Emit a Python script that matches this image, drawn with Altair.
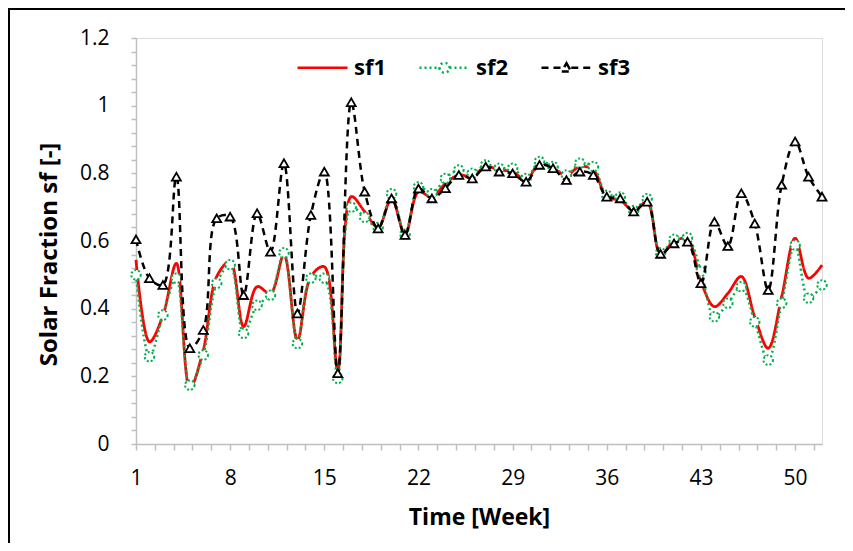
import altair as alt
import pandas as pd

weeks = list(range(1, 53))
sf1 = [0.544, 0.302, 0.380, 0.534, 0.165, 0.278, 0.495, 0.539, 0.347, 0.465,
       0.445, 0.559, 0.307, 0.495, 0.524, 0.219, 0.731, 0.687, 0.640, 0.725,
       0.620, 0.745, 0.730, 0.770, 0.795, 0.790, 0.820, 0.810, 0.805, 0.780,
       0.830, 0.815, 0.795, 0.820, 0.810, 0.730, 0.720, 0.690, 0.715, 0.560,
       0.600, 0.605, 0.480, 0.406, 0.445, 0.495, 0.376, 0.283, 0.435, 0.608,
       0.490, 0.529]
sf2 = [0.500, 0.258, 0.381, 0.490, 0.174, 0.263, 0.475, 0.530, 0.327, 0.410,
       0.440, 0.565, 0.297, 0.490, 0.490, 0.194, 0.700, 0.670, 0.640, 0.740,
       0.620, 0.760, 0.740, 0.785, 0.810, 0.800, 0.825, 0.815, 0.815, 0.785,
       0.835, 0.820, 0.795, 0.830, 0.820, 0.735, 0.730, 0.690, 0.725, 0.565,
       0.605, 0.610, 0.510, 0.376, 0.416, 0.465, 0.361, 0.248, 0.416, 0.588,
       0.431, 0.470]
sf3 = [0.605, 0.490, 0.470, 0.790, 0.283, 0.337, 0.667, 0.672, 0.440, 0.682,
       0.568, 0.830, 0.386, 0.677, 0.805, 0.209, 1.010, 0.746, 0.637, 0.726,
       0.618, 0.755, 0.726, 0.756, 0.795, 0.785, 0.820, 0.805, 0.800, 0.775,
       0.825, 0.815, 0.780, 0.805, 0.795, 0.731, 0.726, 0.687, 0.716, 0.562,
       0.593, 0.598, 0.475, 0.657, 0.585, 0.741, 0.652, 0.455, 0.766, 0.894,
       0.790, 0.731]

series_names = ["sf1", "sf2", "sf3"]
series_colors = ["#ff0000", "#00b050", "#000000"]
series_dash = [[1, 0], [2, 3], [7, 5]]
legend_paths = [
    "M-1,0L1,0",
    "M-1,0L-0.2,0M0.2,0L1,0M-0.2,0A0.2,0.2 0 1,0 0.2,0A0.2,0.2 0 1,0 -0.2,0Z",
    "M-1,0L-0.19,0M0.19,0L1,0M0,-0.18L0.19,0.15L-0.19,0.15Z",
]

x_ticks = [round(1 + 1.4 * k, 1) for k in range(37)]
y_ticks = [round(0.04 * k, 2) for k in range(31)]

FONT = "Open Sans"
GRAY = "#bfbfbf"

df = pd.DataFrame({
    "week": weeks * 3,
    "value": sf1 + sf2 + sf3,
    "series": ["sf1"] * 52 + ["sf2"] * 52 + ["sf3"] * 52,
})

x_enc = alt.X("week:Q",
              scale=alt.Scale(domain=[1, 52], nice=False, zero=False),
              axis=alt.Axis(values=x_ticks,
                            labelExpr="abs((datum.value-1)/7 - round((datum.value-1)/7)) < 0.01 ? toString(round(datum.value)) : ''",
                            labelOverlap=False, labelFlush=False,
                            grid=False, domainColor=GRAY, tickColor=GRAY,
                            tickSize=6, tickWidth=1.5, domainWidth=1.5,
                            labelFont=FONT, labelFontSize=21, labelColor="#000",
                            labelPadding=17,
                            title="Time [Week]", titleFont=FONT, titleFontSize=23,
                            titleFontWeight="bold", titleColor="#000",
                            titlePadding=18))
y_enc = alt.Y("value:Q",
              scale=alt.Scale(domain=[0, 1.2], nice=False),
              axis=alt.Axis(values=y_ticks,
                            labelExpr="abs(datum.value*5 - round(datum.value*5)) < 0.001 ? toString(round(datum.value*10)/10) : ''",
                            labelOverlap=False, labelFlush=False,
                            grid=False, domainColor=GRAY, tickColor=GRAY,
                            tickSize=5, tickWidth=1.5, domainWidth=1.5,
                            labelFont=FONT, labelFontSize=21, labelColor="#000",
                            labelPadding=22,
                            title="Solar Fraction sf [-]", titleFont=FONT,
                            titleFontSize=24, titleFontWeight="bold",
                            titleColor="#000", titlePadding=18, titleY=216))

base = alt.Chart(df).encode(x=x_enc, y=y_enc)

def line_layer(i, width):
    return base.transform_filter(alt.datum.series == series_names[i]).mark_line(
        interpolate="catmull-rom", color=series_colors[i],
        strokeWidth=width, strokeDash=series_dash[i])

l1 = line_layer(0, 2.8)
l2 = line_layer(1, 2.5)
l3 = line_layer(2, 2.5)

p2 = base.transform_filter(alt.datum.series == "sf2").mark_point(
    shape="circle", size=90, filled=True, fill="white", stroke="#00b050",
    strokeWidth=2, strokeDash=[2, 2], opacity=1)
p3 = base.transform_filter(alt.datum.series == "sf3").mark_point(
    shape="triangle-up", size=80, filled=True, fill="white", stroke="#000",
    strokeWidth=1.8, opacity=1)

def make_legend():
    return alt.Legend(title=None, orient="none", legendX=160, legendY=3,
                      direction="horizontal", symbolSize=2500,
                      symbolStrokeWidth=2.5, symbolFillColor="white",
                      labelFont=FONT, labelFontSize=22, labelFontWeight="bold",
                      labelColor="#000", labelOffset=5, columnPadding=27)

legend_layer = base.transform_filter("false").mark_point(
    filled=True, fill="white", opacity=1, strokeWidth=2.5
).encode(
    stroke=alt.Stroke("series:N",
                      scale=alt.Scale(domain=series_names, range=series_colors),
                      legend=make_legend()),
    strokeDash=alt.StrokeDash("series:N",
                              scale=alt.Scale(domain=series_names, range=series_dash),
                              legend=make_legend()),
    shape=alt.Shape("series:N",
                    scale=alt.Scale(domain=series_names, range=legend_paths),
                    legend=make_legend()),
)

frame = alt.Chart(pd.DataFrame({"a": [0]})).mark_rect(
    fill="transparent", stroke="#000", strokeWidth=2
).encode(x=alt.value(-127), x2=alt.value(760), y=alt.value(-29), y2=alt.value(560))

chart = alt.layer(l1, l2, p2, l3, p3, legend_layer, frame).properties(
    width=686, height=406,
    autosize=alt.AutoSizeParams(type="none"),
    padding={"left": 128, "top": 30, "right": 23, "bottom": 99},
).configure_view(stroke=None).configure(background="white")

chart.save("out.html", embed_options={"renderer": "svg", "actions": False})
